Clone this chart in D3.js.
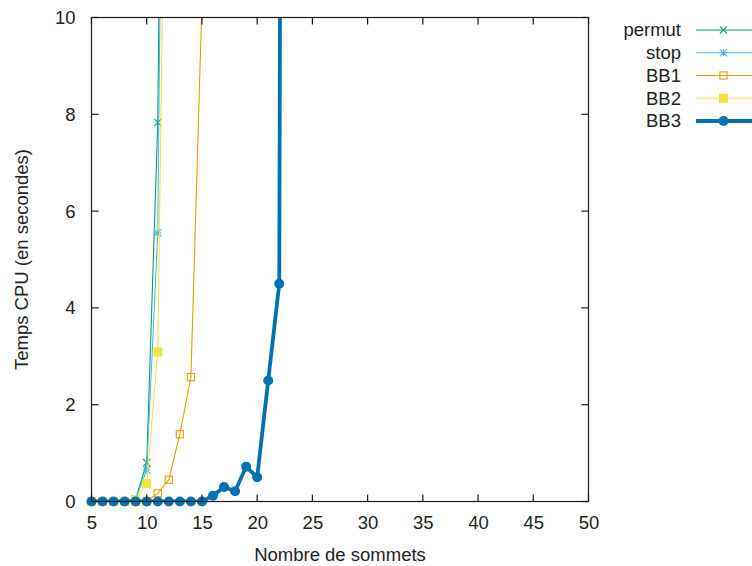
<!DOCTYPE html>
<html>
<head>
<meta charset="utf-8">
<script src="https://cdn.jsdelivr.net/npm/d3@7"></script>
<style>
  html, body { margin: 0; padding: 0; background: #fff; }
  svg { display: block; font-family: "Liberation Sans", Arial, sans-serif; }
</style>
</head>
<body>
<svg id="chart" width="752" height="566"></svg>
<script>
// Number of vertices tested
const sommets = [5, 6, 7, 8, 9, 10, 11, 12, 13, 14, 15, 16, 17, 18, 19, 20, 21, 22, 23];

// CPU time (seconds) per algorithm; runs stop once the time explodes
const permut = [0, 0, 0, 0, 0.05, 0.8, 7.83, 30];
const stop   = [0, 0, 0, 0, 0.05, 0.65, 5.55, 29];
const BB1    = [0, 0, 0, 0, 0, 0, 0.17, 0.45, 1.39, 2.57, 10.3];
const BB2    = [0, 0, 0, 0, 0.03, 0.37, 3.09, 20];
const BB3    = [0, 0, 0, 0, 0, 0, 0, 0, 0, 0, 0, 0.12, 0.3, 0.21, 0.72, 0.5, 2.5, 4.5, 90];

const xTicks = [5, 10, 15, 20, 25, 30, 35, 40, 45, 50];
const yTicks = [0, 2, 4, 6, 8, 10];

const xTitle = "Nombre de sommets";
const yTitle = "Temps CPU (en secondes)";

const series = [
  { name: "permut", values: permut, color: "#009e73", width: 1.1, marker: "cross" },
  { name: "stop",   values: stop,   color: "#56b4e9", width: 1.1, marker: "star" },
  { name: "BB1",    values: BB1,    color: "#e69f00", width: 1.1, marker: "openSquare" },
  { name: "BB2",    values: BB2,    color: "#f0e442", width: 1.1, marker: "square" },
  { name: "BB3",    values: BB3,    color: "#0072b2", width: 3.8, marker: "circle" }
];

const svg = d3.select("#chart");
const W = 752, H = 566;
const plotL = 91.5, plotR = 588.5, plotT = 17.5, plotB = 501.5;
const fontSize = 18.5;
const textColor = "#222";

svg.append("rect").attr("width", W).attr("height", H).attr("fill", "#fff");

const x = d3.scaleLinear().domain([5, 50]).range([plotL, plotR]);
const y = d3.scaleLinear().domain([0, 10]).range([plotB, plotT]);

svg.append("clipPath").attr("id", "plotClip")
  .append("rect").attr("x", plotL).attr("y", plotT)
  .attr("width", plotR - plotL).attr("height", plotB - plotT);

// Marker shapes
function drawMarker(g, type, cx, cy, color) {
  const s = 3.6;
  if (type === "cross") {
    g.append("path")
      .attr("d", `M${cx - s},${cy - s}L${cx + s},${cy + s}M${cx - s},${cy + s}L${cx + s},${cy - s}`)
      .attr("stroke", color).attr("stroke-width", 1.1).attr("fill", "none");
  } else if (type === "star") {
    g.append("path")
      .attr("d", `M${cx - s},${cy - s}L${cx + s},${cy + s}M${cx - s},${cy + s}L${cx + s},${cy - s}` +
                 `M${cx - s},${cy}L${cx + s},${cy}M${cx},${cy - s}L${cx},${cy + s}`)
      .attr("stroke", color).attr("stroke-width", 1.1).attr("fill", "none");
  } else if (type === "openSquare") {
    g.append("rect").attr("x", cx - s).attr("y", cy - s)
      .attr("width", 2 * s).attr("height", 2 * s)
      .attr("fill", "none").attr("stroke", color).attr("stroke-width", 1.1);
  } else if (type === "square") {
    g.append("rect").attr("x", cx - 4.5).attr("y", cy - 4.5)
      .attr("width", 9).attr("height", 9).attr("fill", color);
  } else if (type === "circle") {
    g.append("circle").attr("cx", cx).attr("cy", cy).attr("r", 5).attr("fill", color);
  }
}

const line = d3.line().x(d => x(d.x)).y(d => y(d.y));

series.forEach(s => {
  const pts = s.values.map((v, i) => ({ x: sommets[i], y: v }));
  const g = svg.append("g").attr("clip-path", "url(#plotClip)");
  g.append("path").datum(pts)
    .attr("d", line)
    .attr("fill", "none")
    .attr("stroke", s.color)
    .attr("stroke-width", s.width)
    .attr("stroke-linejoin", "round");
  const mg = svg.append("g");
  pts.filter(p => p.y <= 10 && p.x <= 50).forEach(p => drawMarker(mg, s.marker, x(p.x), y(p.y), s.color));
});

// Frame and tics (inward, mirrored on top and right)
const axisColor = "#1a1a1a";
const tick = 7;
svg.append("rect").attr("x", plotL).attr("y", plotT)
  .attr("width", plotR - plotL).attr("height", plotB - plotT)
  .attr("fill", "none").attr("stroke", axisColor).attr("stroke-width", 1.2);

const xAxisG = svg.append("g").attr("transform", `translate(0,${plotB})`)
  .call(d3.axisBottom(x).tickValues(xTicks).tickSize(0).tickPadding(14));
xAxisG.select(".domain").remove();
xAxisG.selectAll("text").attr("font-size", fontSize).attr("fill", textColor)
  .attr("font-family", "Liberation Sans, Arial, sans-serif");

const yAxisG = svg.append("g").attr("transform", `translate(${plotL},0)`)
  .call(d3.axisLeft(y).tickValues(yTicks).tickSize(0).tickPadding(16));
yAxisG.select(".domain").remove();
yAxisG.selectAll("text").attr("font-size", fontSize).attr("fill", textColor)
  .attr("font-family", "Liberation Sans, Arial, sans-serif");

const ticksG = svg.append("g").attr("stroke", axisColor).attr("stroke-width", 1.2);
xTicks.forEach(t => {
  ticksG.append("line").attr("x1", x(t)).attr("x2", x(t)).attr("y1", plotB).attr("y2", plotB - tick);
  ticksG.append("line").attr("x1", x(t)).attr("x2", x(t)).attr("y1", plotT).attr("y2", plotT + tick);
});
yTicks.forEach(t => {
  ticksG.append("line").attr("x1", plotL).attr("x2", plotL + tick).attr("y1", y(t)).attr("y2", y(t));
  ticksG.append("line").attr("x1", plotR).attr("x2", plotR - tick).attr("y1", y(t)).attr("y2", y(t));
});

// Axis titles
svg.append("text").attr("x", (plotL + plotR) / 2).attr("y", 561)
  .attr("text-anchor", "middle").attr("font-size", fontSize).attr("fill", textColor)
  .text(xTitle);
svg.append("text")
  .attr("transform", `translate(28,${(plotT + plotB) / 2}) rotate(-90)`)
  .attr("text-anchor", "middle").attr("font-size", fontSize).attr("fill", textColor)
  .text(yTitle);

// Legend
const legend = svg.append("g");
series.forEach((s, i) => {
  const ly = 30 + i * 22.75;
  legend.append("text").attr("x", 681).attr("y", ly).attr("dy", "0.35em")
    .attr("text-anchor", "end").attr("font-size", fontSize).attr("fill", textColor)
    .text(s.name);
  legend.append("line").attr("x1", 696).attr("x2", 752).attr("y1", ly).attr("y2", ly)
    .attr("stroke", s.color).attr("stroke-width", s.width);
  drawMarker(legend, s.marker, 723.5, ly, s.color);
});
</script>
</body>
</html>
